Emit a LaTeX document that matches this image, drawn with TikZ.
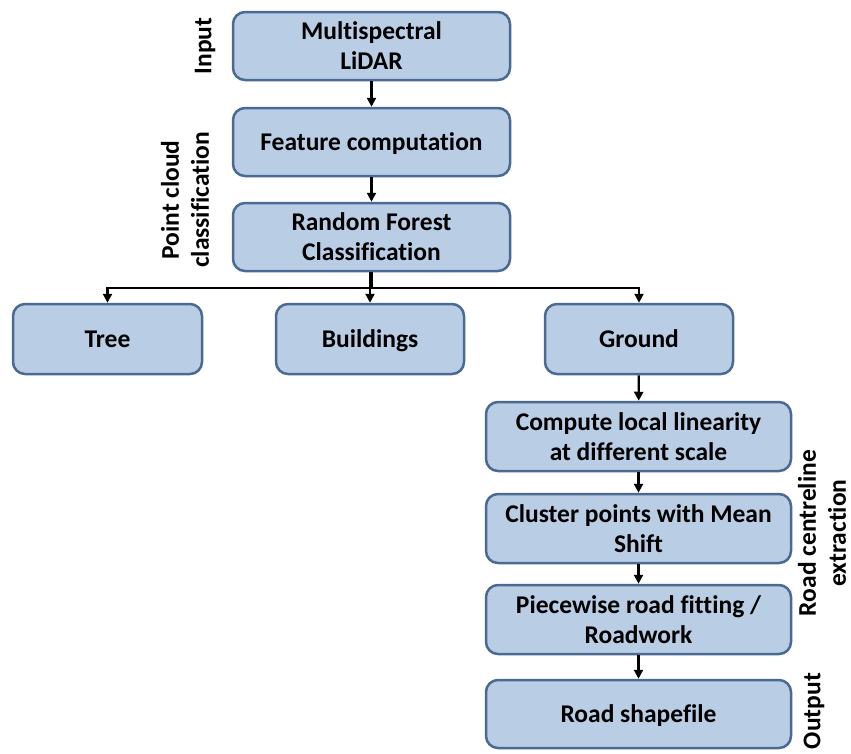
\documentclass[tikz,border=0pt]{standalone}
\usepackage{fontspec}
\setmainfont[Ligatures={NoCommon}]{Carlito}
\usetikzlibrary{arrows.meta}
\definecolor{boxfill}{HTML}{B9CDE5}
\definecolor{boxline}{HTML}{4A6A94}
\tikzset{
  box/.style={draw=boxline, line width=2.5pt, fill=boxfill, rounded corners=12pt,
    font=\bfseries\fontsize{25.5}{30}\selectfont, align=center, inner sep=0pt},
  oneline/.style={text height=19pt, text depth=3pt},
  arr/.style={line width=2.2pt, -{Triangle[length=9pt,width=9pt]}},
  side/.style={font=\bfseries\fontsize{25.5}{30}\selectfont, align=center, rotate=90}
}
\begin{document}
\begin{tikzpicture}[x=1pt,y=-1pt]
\useasboundingbox (0,0) rectangle (851,753);
\node[box, minimum width=277pt, minimum height=68pt] (ms) at (371.5,46) {Multispectral\\LiDAR};
\node[box, oneline, minimum width=277pt, minimum height=68pt] (fc) at (371.5,142) {Feature computation};
\node[box, minimum width=277pt, minimum height=68pt] (rf) at (371.5,237) {Random Forest\\Classification};
\node[box, oneline, minimum width=189pt, minimum height=70pt] (tree) at (107.5,339) {Tree};
\node[box, oneline, minimum width=188pt, minimum height=70pt] (bld) at (370,339) {Buildings};
\node[box, oneline, minimum width=188pt, minimum height=70pt] (gnd) at (639,339) {Ground};
\node[box, minimum width=305pt, minimum height=69pt] (lin) at (638.5,436.5) {Compute local linearity\\at different scale};
\node[box, minimum width=305pt, minimum height=69pt] (clu) at (638.5,528.5) {Cluster points with Mean\\Shift};
\node[box, minimum width=305pt, minimum height=69pt] (pw) at (638.5,619.5) {Piecewise road fitting /\\Roadwork};
\node[box, oneline, minimum width=305pt, minimum height=68pt] (rs) at (638.5,714) {Road shapefile};
\coordinate (br) at (371.5,288);
\draw[arr] (ms) -- (fc);
\draw[arr] (fc) -- (rf);
\draw[line width=2.2pt] (rf.south) -- (br);
\draw[arr] (br) -| (tree.north);
\draw[arr] (br) -| (gnd.north);
\draw[arr] (rf.south -| bld.north) -- (bld.north);
\draw[arr] (gnd) -- (lin);
\draw[arr] (lin) -- (clu);
\draw[arr] (clu) -- (pw);
\draw[arr] (pw) -- (rs);
\node[side] (lin1) at (205,46) {Input};
\node[side] (lpc) at (185,200) {Point cloud\\classification};
\node[side] (lrc) at (822,533) {Road centreline\\extraction};
\node[side] (lout) at (814,711) {Output};
\end{tikzpicture}
\end{document}
